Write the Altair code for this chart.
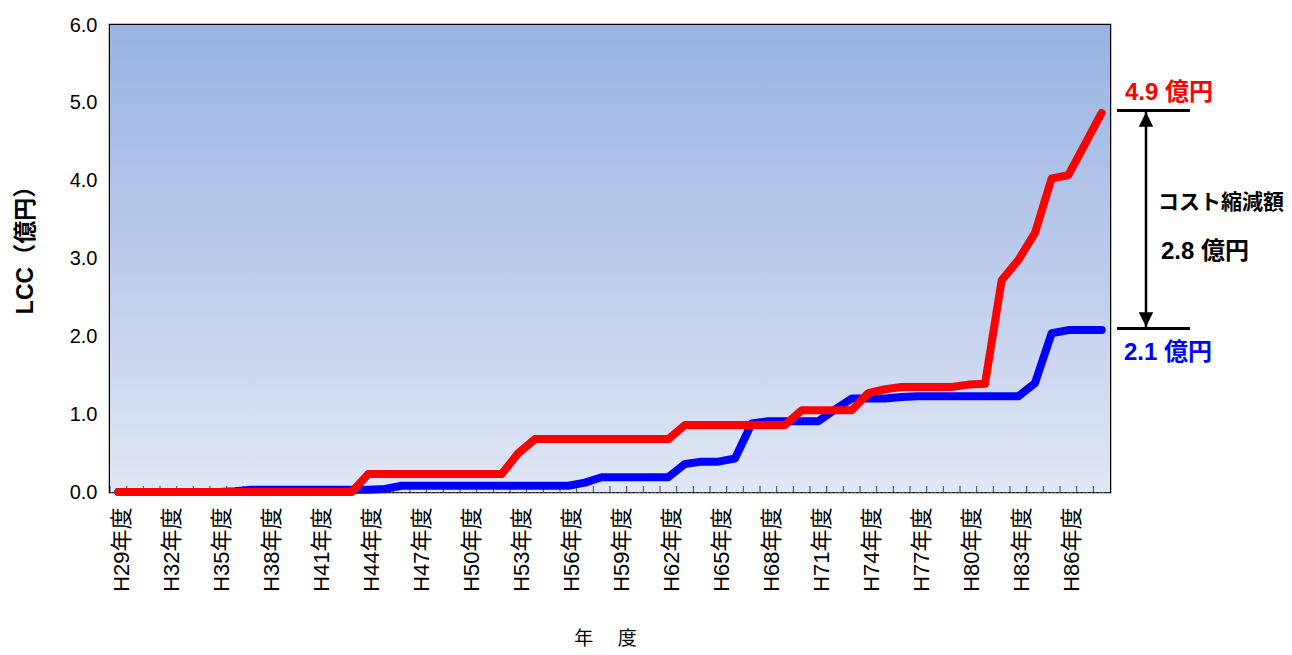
import altair as alt
import pandas as pd

# ---- data -------------------------------------------------------------
years = [f"H{n}年度" for n in range(29, 89)]          # H29 ... H88
label_years = years[::3]                              # every 3rd label shown

# conventional (red) cumulative LCC, 億円
red_values = [0.00, 0.00, 0.00, 0.00, 0.00, 0.00, 0.00, 0.00, 0.00, 0.00,
              0.00, 0.00, 0.00, 0.00, 0.00, 0.23, 0.23, 0.23, 0.23, 0.23,
              0.23, 0.23, 0.23, 0.23, 0.50, 0.68, 0.68, 0.68, 0.68, 0.68,
              0.68, 0.68, 0.68, 0.68, 0.86, 0.86, 0.86, 0.86, 0.86, 0.86,
              0.86, 1.05, 1.05, 1.05, 1.05, 1.27, 1.32, 1.35, 1.35, 1.35,
              1.35, 1.38, 1.39, 2.72, 2.98, 3.33, 4.03, 4.07, 4.47, 4.87]
# planned / preventive (blue) cumulative LCC, 億円
blue_values = [0.00, 0.00, 0.00, 0.00, 0.00, 0.00, 0.00, 0.01, 0.03, 0.03,
               0.03, 0.03, 0.03, 0.03, 0.03, 0.03, 0.04, 0.08, 0.08, 0.08,
               0.08, 0.08, 0.08, 0.08, 0.08, 0.08, 0.08, 0.08, 0.12, 0.19,
               0.19, 0.19, 0.19, 0.19, 0.36, 0.39, 0.39, 0.43, 0.88, 0.91,
               0.91, 0.91, 0.91, 1.06, 1.20, 1.20, 1.20, 1.22, 1.23, 1.23,
               1.23, 1.23, 1.23, 1.23, 1.23, 1.40, 2.04, 2.08, 2.08, 2.08]

y_ticks = [0, 1, 2, 3, 4, 5, 6]

end_values = [4.9, 2.1]
end_labels = ["4.9 億円", "2.1 億円"]
end_colors = ["#ff0000", "#0000ff"]
saving_title = "コスト縮減額"
saving_label = "2.8 億円"

FONT = "Liberation Sans, Noto Sans CJK JP"
W, H = 1000, 467
STEP = W / len(years)

df_red = pd.DataFrame({"year": years, "value": red_values})
df_blue = pd.DataFrame({"year": years, "value": blue_values})
df_ticks = pd.DataFrame({"year": years, "base": [0.0] * len(years)})
df_ends = pd.DataFrame({"value": end_values, "label": end_labels, "color": end_colors})
df_arrow = pd.DataFrame({"top": [end_values[0]], "bottom": [end_values[1]],
                         "mid": [(end_values[0] + end_values[1]) / 2]})

x_scale = alt.Scale(type="point", domain=years, padding=0.5)
y_scale = alt.Scale(domain=[0, 6], nice=False)

x_axis = alt.Axis(
    values=label_years, labelAngle=270, labelAlign="right", labelBaseline="middle",
    labelFont=FONT, labelFontSize=22, labelColor="black", labelPadding=15,
    labelOffset=3, tickSize=0, domain=False, grid=False, labelOverlap=False,
    title="年　 度", titleFont=FONT, titleFontSize=19, titleFontWeight="normal",
    titleColor="black", titleX=495, titleY=146, titleBaseline="middle",
)
y_axis = alt.Axis(
    values=y_ticks, format=".1f", labelFont="Liberation Sans", labelFontSize=20,
    labelColor="black", labelPadding=13, tickSize=0, domain=False,
    grid=True, gridColor="#6e6e6e", gridDash=[2, 2], gridWidth=0.8,
    title="LCC（億円）", titleFont=FONT, titleFontSize=23, titleFontWeight="bold",
    titleColor="black", titleX=-85, titleY=219, titleBaseline="middle",
    titleAngle=270,
)


def X(field):
    return alt.X(field, type="nominal", sort=years, scale=x_scale, axis=x_axis)


def Y(field):
    return alt.Y(field, type="quantitative", scale=y_scale, axis=y_axis)


grad = alt.LinearGradient(
    gradient="linear",
    stops=[alt.GradientStop(color="#98b3e2", offset=0),
           alt.GradientStop(color="#bccbec", offset=0.5),
           alt.GradientStop(color="#e0e7f4", offset=1)],
    x1=0, x2=0, y1=0, y2=1,
)

background = alt.Chart(df_ticks).mark_rect(color=grad).encode(
    x=alt.value(0), x2=alt.value(W), y=alt.value(0), y2=alt.value(H),
)

ticks = alt.Chart(df_ticks).mark_tick(
    orient="vertical", size=6, thickness=1, color="black", xOffset=-STEP / 2, yOffset=-3
).encode(x=X("year"), y=Y("base"))

blue_line = alt.Chart(df_blue).mark_line(
    color="#0000ff", strokeWidth=8, strokeCap="round", strokeJoin="round", clip=False
).encode(x=X("year"), y=Y("value"))

red_line = alt.Chart(df_red).mark_line(
    color="#ff0000", strokeWidth=8, strokeCap="round", strokeJoin="round", clip=False
).encode(x=X("year"), y=Y("value"))

# ---- right-hand annotation ---------------------------------------------
end_rules = alt.Chart(df_ends).mark_rule(color="black", strokeWidth=3).encode(
    x=alt.value(1007), x2=alt.value(1080), y=Y("value"),
)
arrow_shaft = alt.Chart(df_arrow).mark_rule(color="black", strokeWidth=2.5).encode(
    x=alt.value(1036), y=Y("top"), y2="bottom:Q",
)
head_up = alt.Chart(df_arrow).mark_point(
    shape="M-1,1L0,-1L1,1Z", filled=True, size=210, color="black", opacity=1, yOffset=9
).encode(x=alt.value(1036), y=Y("top"))
head_down = alt.Chart(df_arrow).mark_point(
    shape="M-1,-1L0,1L1,-1Z", filled=True, size=210, color="black", opacity=1, yOffset=-9
).encode(x=alt.value(1036), y=Y("bottom"))

top_label = alt.Chart(df_ends.iloc[[0]]).mark_text(
    font=FONT, fontSize=24, fontWeight="bold", align="left", baseline="middle", yOffset=-18
).encode(
    x=alt.value(1015), y=Y("value"),
    text="label:N", color=alt.Color("color:N", scale=None),
)
bottom_label = alt.Chart(df_ends.iloc[[1]]).mark_text(
    font=FONT, fontSize=24, fontWeight="bold", align="left", baseline="middle", yOffset=24
).encode(
    x=alt.value(1014), y=Y("value"),
    text="label:N", color=alt.Color("color:N", scale=None),
)
saving_head = alt.Chart(df_arrow).mark_text(
    font=FONT, fontSize=21, fontWeight="bold", align="left", baseline="middle",
    color="black", yOffset=-17, text=saving_title,
).encode(x=alt.value(1048), y=Y("mid"))
saving_amount = alt.Chart(df_arrow).mark_text(
    font=FONT, fontSize=24, fontWeight="bold", align="left", baseline="middle",
    color="black", yOffset=32, text=saving_label,
).encode(x=alt.value(1051), y=Y("mid"))

chart = alt.layer(
    background, ticks, blue_line, red_line, end_rules, arrow_shaft, head_up, head_down,
    top_label, bottom_label, saving_head, saving_amount,
).properties(
    width=W, height=H,
    padding={"left": 102, "top": 17, "right": 174, "bottom": 155},
    autosize=alt.AutoSizeParams(type="none"),
    background="white",
).configure_view(
    stroke="black", strokeWidth=2.5,
)

chart.save("out.html", embed_options={"renderer": "svg", "actions": False})
